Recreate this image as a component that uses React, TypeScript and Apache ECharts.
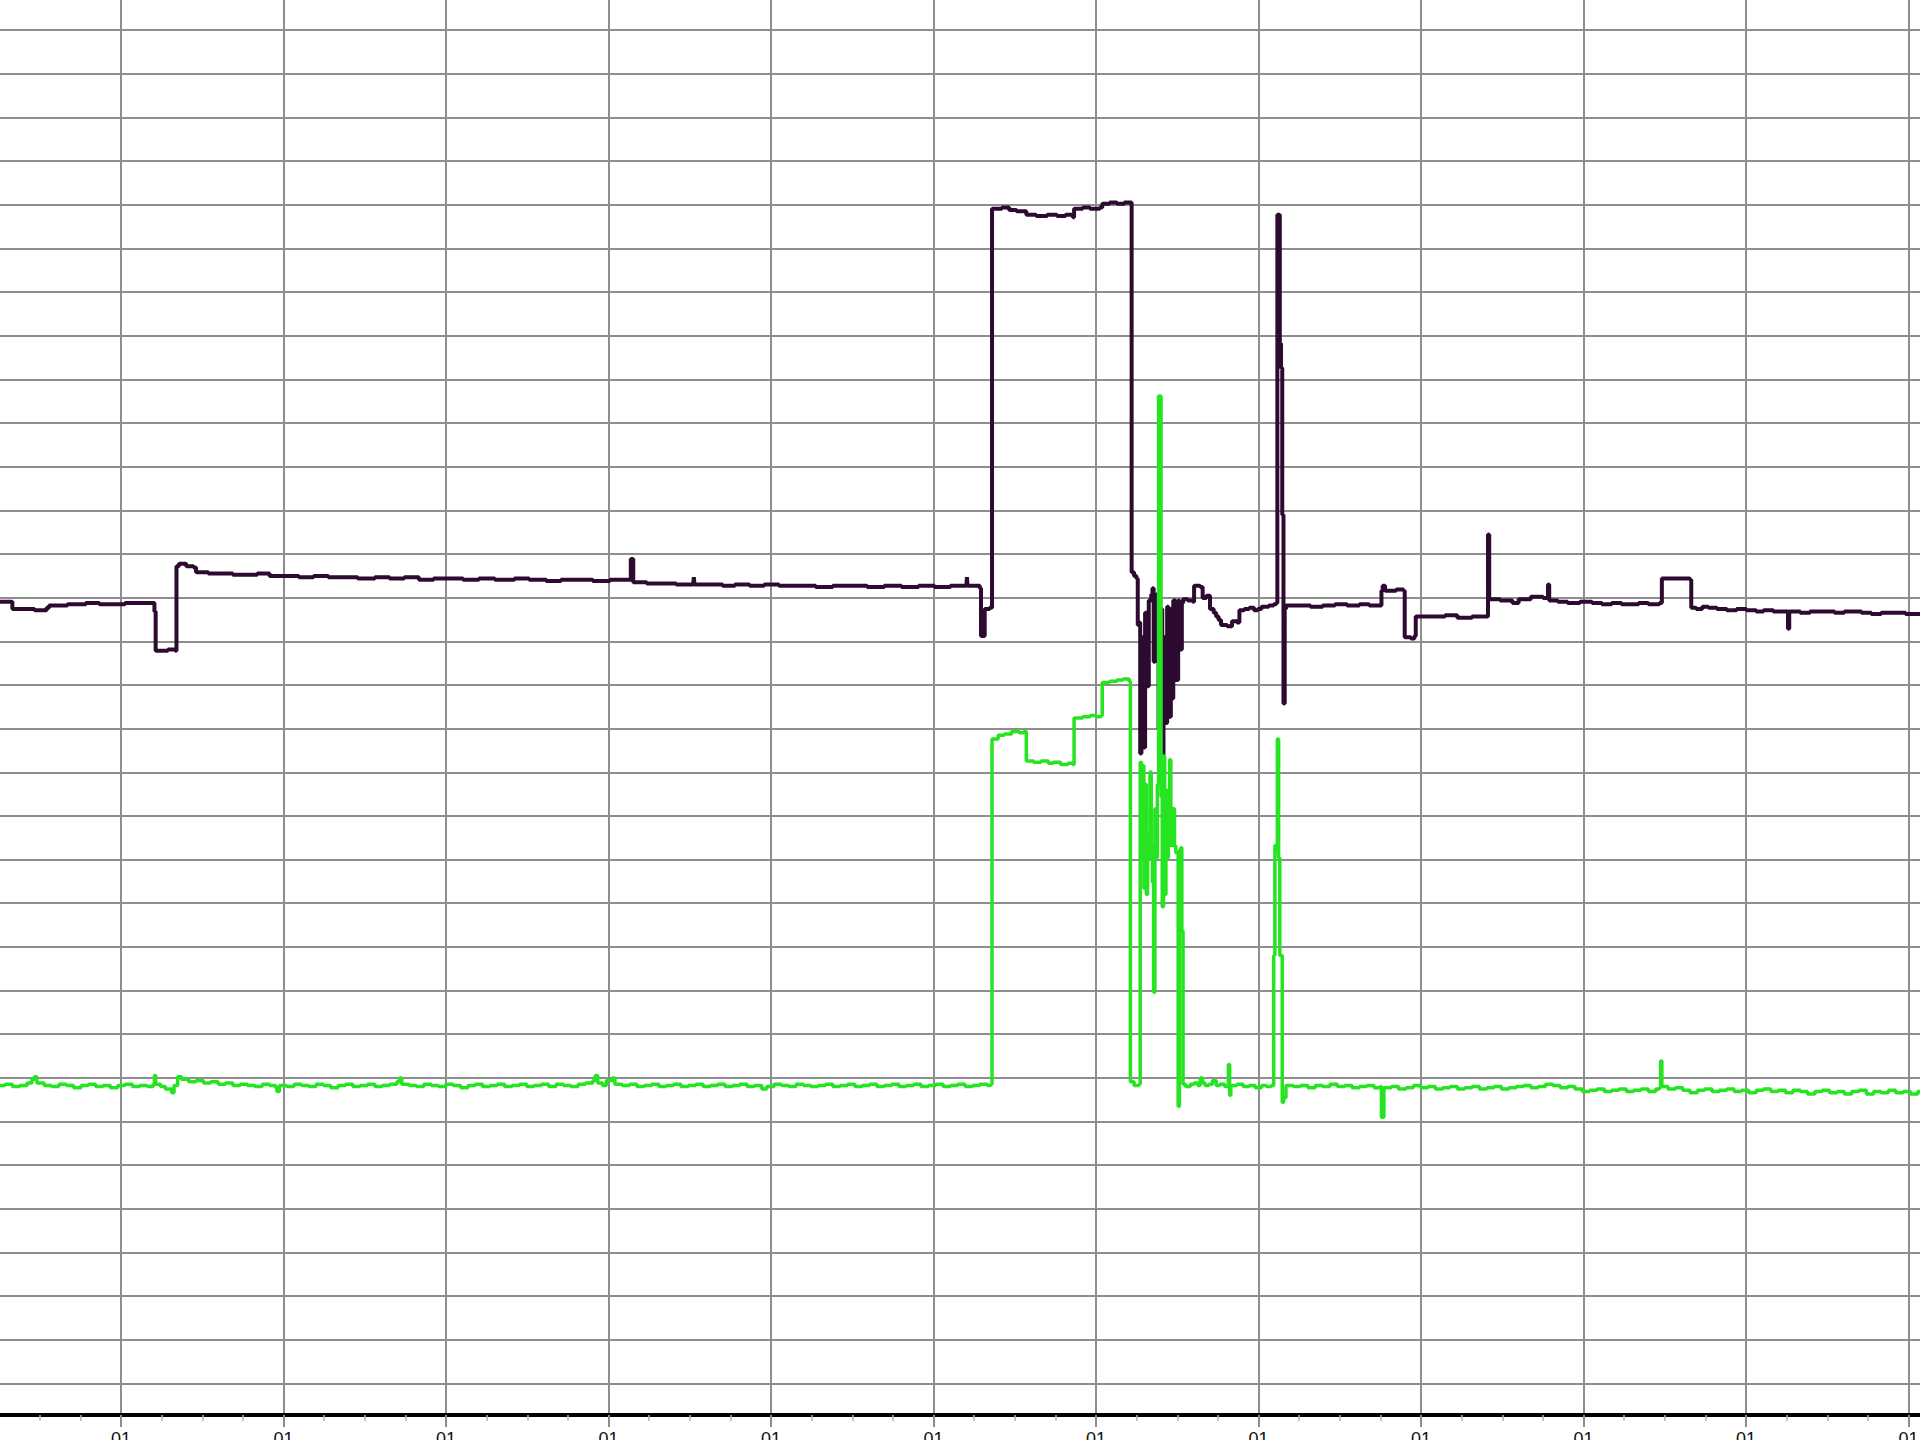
import React, { useEffect, useRef } from "react";
import * as echarts from "echarts";

// x tick labels (one per major interval; the text is cut by the bottom edge in the reference)
const xTickLabels = ["01", "01", "01", "01", "01", "01", "01", "01", "01", "01", "01", "01", "01", "01"];

// Axis scale (arbitrary units)
const xMin = 0;
const xInterval = 132.7;
const xMax = 1725.1;
const yMin = 0;
const yInterval = 35.65;
const yMax = 1176.45;

// Dark purple trace [x, y]
const purpleSeries: [number, number][] = [
  [30, 674], [43, 674], [44, 668], [54, 668], [62, 667], [72, 669], [74, 671], [89, 672],
  [104, 673], [115, 672], [124, 672], [136, 673], [144, 673], [158, 673], [160, 666], [161, 634],
  [171, 635], [177, 634], [178, 703], [180, 705], [186, 703], [192, 702], [194, 698], [204, 697],
  [215, 697], [224, 696], [234, 696], [244, 697], [254, 695], [267, 695], [278, 694], [290, 695],
  [302, 694], [314, 694], [326, 693], [340, 694], [352, 693], [364, 694], [376, 692], [388, 693],
  [399, 693], [412, 692], [425, 693], [438, 692], [454, 693], [466, 692], [480, 691], [492, 692],
  [504, 692], [518, 691], [532, 692], [548, 692], [549, 709], [550, 709], [551, 690], [562, 689],
  [574, 689], [586, 688], [600, 689], [600.5, 694], [601, 688], [612, 688], [624, 687], [634, 688],
  [646, 687], [658, 688], [670, 687], [684, 687], [700, 686], [714, 687], [728, 687], [742, 686],
  [756, 687], [770, 686], [784, 687], [797, 686], [810, 687], [823, 687], [823.5, 694], [824, 687],
  [832, 687], [834, 685], [835, 646], [837, 646], [838, 668], [842, 669], [844, 995], [852, 996],
  [858, 994], [864, 993], [870, 993], [872, 990], [880, 989], [889, 990], [897, 989], [904, 990],
  [910, 988], [911, 995], [918, 996], [924, 995], [932, 996], [934, 999], [940, 1000], [946, 999],
  [952, 1000], [957, 1000], [958, 698], [960, 695], [962, 693], [963, 655], [964, 657], [965, 550],
  [966, 645], [967, 555], [969, 665], [970, 605], [972, 675], [974, 680], [975, 685], [976, 625],
  [977, 665], [978, 680], [979, 675], [980, 570], [981, 665], [982, 668], [983, 545], [984, 645],
  [985, 575], [987, 670], [988, 580], [990, 668], [991, 595], [992, 675], [994, 610], [996, 675],
  [997, 635], [999, 673], [1000, 676], [1004, 675], [1008, 674], [1009, 687], [1014, 686], [1016, 677],
  [1019, 679], [1022, 668], [1025, 665], [1027, 662], [1029, 659], [1031, 655], [1036, 654], [1040, 658],
  [1044, 657], [1046, 667], [1050, 668], [1054, 669], [1058, 667], [1061, 668], [1064, 670], [1070, 671],
  [1074, 672], [1076, 673], [1077, 990], [1078, 990], [1079, 885], [1080, 865], [1081, 745], [1082, 591],
  [1083, 668], [1084, 671], [1094, 671], [1104, 670], [1114, 671], [1124, 672], [1134, 671], [1144, 672],
  [1152, 671], [1161, 671], [1162, 683], [1163, 687], [1165, 683], [1174, 684], [1180, 683], [1181, 645],
  [1186, 644], [1189, 646], [1190, 662], [1204, 662], [1214, 663], [1224, 661], [1236, 662], [1248, 662],
  [1249, 729], [1250, 676], [1259, 675], [1269, 673], [1274, 676], [1284, 678], [1294, 677], [1297, 678],
  [1298, 688], [1299, 675], [1306, 674], [1314, 673], [1324, 674], [1334, 673], [1342, 672], [1350, 673],
  [1358, 672], [1364, 672], [1372, 673], [1380, 672], [1389, 673], [1391, 693], [1404, 693], [1414, 692],
  [1415, 669], [1419, 668], [1424, 670], [1429, 669], [1436, 668], [1444, 667], [1452, 668], [1460, 667],
  [1468, 666], [1474, 667], [1482, 666], [1492, 666], [1494, 652], [1495, 666], [1504, 665], [1512, 666],
  [1524, 666], [1532, 665], [1540, 666], [1554, 665], [1562, 664], [1570, 665], [1579, 665], [1590, 664],
  [1606, 664],
];

// Bright green trace [x, y]
const greenSeries: [number, number][] = [
  [30, 279], [38, 280], [44, 278], [50, 279], [56, 281], [60, 284], [62, 286], [64, 281],
  [70, 279], [76, 278], [82, 280], [88, 279], [94, 277], [100, 279], [106, 280], [112, 278],
  [118, 279], [124, 277], [130, 279], [136, 280], [142, 278], [148, 279], [154, 278], [159, 280],
  [160, 287], [161, 280], [165, 278], [169, 276], [174, 273], [176, 279], [179, 286], [182, 284],
  [188, 282], [194, 283], [200, 281], [206, 282], [212, 280], [218, 281], [224, 279], [230, 280],
  [236, 279], [242, 278], [248, 280], [254, 279], [259, 277], [260, 274], [262, 279], [268, 278],
  [274, 280], [280, 279], [286, 278], [292, 280], [298, 279], [304, 277], [310, 279], [316, 280],
  [322, 278], [328, 279], [334, 280], [340, 278], [346, 279], [352, 280], [358, 282], [360, 285],
  [362, 280], [368, 279], [374, 278], [380, 280], [386, 279], [392, 278], [398, 280], [404, 279],
  [410, 277], [416, 279], [422, 280], [428, 278], [434, 279], [440, 280], [446, 278], [452, 279],
  [458, 280], [464, 278], [470, 279], [476, 280], [482, 278], [488, 280], [494, 279], [500, 278],
  [506, 280], [512, 281], [518, 283], [520, 287], [522, 281], [526, 279], [529, 283], [534, 285],
  [536, 280], [542, 279], [548, 280], [554, 278], [560, 279], [566, 280], [572, 278], [578, 279],
  [584, 280], [590, 278], [596, 279], [602, 280], [608, 278], [614, 279], [620, 280], [626, 278],
  [632, 279], [638, 280], [644, 278], [650, 279], [656, 276], [660, 278], [666, 280], [672, 279],
  [678, 278], [684, 280], [690, 279], [696, 278], [702, 279], [708, 280], [714, 278], [720, 279],
  [726, 280], [732, 278], [738, 279], [744, 280], [750, 278], [756, 279], [762, 280], [768, 278],
  [774, 279], [780, 280], [786, 278], [792, 279], [798, 280], [804, 278], [810, 279], [816, 280],
  [822, 278], [828, 279], [834, 280], [840, 279], [843, 280], [844, 562], [849, 565], [854, 566],
  [860, 568], [866, 567], [870, 568], [872, 544], [878, 543], [884, 544], [890, 542], [894, 543],
  [900, 541], [906, 542], [910, 541], [911, 579], [918, 580], [924, 581], [929, 580], [933, 581],
  [934, 608], [940, 609], [946, 610], [951, 611], [956, 609], [957, 282], [960, 279], [964, 280],
  [965, 543], [966, 465], [967, 540], [968, 440], [969, 525], [970, 435], [971, 485], [972, 465],
  [973, 535], [974, 475], [975, 445], [976, 355], [977, 505], [978, 465], [979, 525], [980, 842],
  [981, 842], [982, 515], [983, 425], [984, 548], [985, 435], [986, 520], [987, 465], [988, 485],
  [989, 545], [990, 475], [991, 505], [993, 475], [994, 469], [996, 262], [997, 471], [998, 473],
  [999, 405], [1000, 280], [1002, 278], [1006, 280], [1009, 281], [1012, 279], [1014, 285], [1016, 281],
  [1018, 279], [1021, 280], [1024, 283], [1027, 279], [1030, 280], [1034, 278], [1037, 296], [1038, 271],
  [1039, 279], [1044, 280], [1049, 278], [1054, 279], [1059, 277], [1064, 279], [1068, 278], [1072, 279],
  [1074, 385], [1075, 475], [1076, 470], [1077, 562], [1078, 465], [1079, 385], [1080, 385], [1081, 265],
  [1082, 269], [1084, 279], [1090, 278], [1096, 279], [1102, 277], [1108, 279], [1114, 278], [1120, 280],
  [1126, 278], [1132, 279], [1138, 277], [1144, 278], [1150, 279], [1156, 277], [1161, 278], [1162, 253],
  [1164, 277], [1170, 278], [1176, 276], [1182, 277], [1188, 279], [1194, 277], [1200, 278], [1206, 276],
  [1212, 277], [1218, 278], [1224, 276], [1230, 277], [1236, 278], [1242, 276], [1248, 277], [1254, 278],
  [1260, 276], [1266, 277], [1272, 278], [1278, 279], [1284, 277], [1290, 278], [1296, 280], [1302, 279],
  [1308, 277], [1314, 278], [1320, 276], [1326, 274], [1332, 275], [1338, 276], [1344, 274], [1350, 275],
  [1356, 276], [1362, 274], [1368, 275], [1374, 276], [1380, 274], [1386, 276], [1389, 277], [1390, 299],
  [1391, 278], [1396, 276], [1402, 277], [1408, 275], [1414, 273], [1420, 275], [1426, 276], [1432, 274],
  [1438, 275], [1444, 276], [1450, 274], [1456, 275], [1462, 273], [1468, 275], [1474, 276], [1480, 274],
  [1486, 275], [1492, 273], [1498, 275], [1504, 274], [1510, 272], [1516, 274], [1522, 275], [1528, 273],
  [1534, 274], [1540, 272], [1546, 274], [1552, 275], [1558, 272], [1564, 274], [1570, 273], [1576, 275],
  [1582, 273], [1588, 274], [1594, 272], [1600, 274], [1606, 273],
];

const gridColor = "#8e8e8e";

export default function App() {
  const ref = useRef<HTMLDivElement>(null);
  useEffect(() => {
    if (!ref.current) return;
    const chart = echarts.init(ref.current, undefined, { renderer: "svg" });
    chart.setOption({
      animation: false,
      backgroundColor: "#ffffff",
      grid: {
        left: -41.5,
        right: -151,
        top: -13.45,
        bottom: 13,
        containLabel: false,
        outerBoundsMode: "none",
      },
      xAxis: {
        type: "value",
        min: xMin,
        max: xMax,
        interval: xInterval,
        offset: -12,
        axisLine: { show: true, onZero: false, lineStyle: { color: "#000000", width: 4 } },
        axisTick: { show: true, length: 7, lineStyle: { color: gridColor, width: 2 } },
        minorTick: { show: true, splitNumber: 4, length: 6, lineStyle: { color: "#b4b4b4", width: 1.5 } },
        axisLabel: {
          show: true,
          margin: 15,
          fontSize: 18,
          fontFamily: "Liberation Sans, Arial, sans-serif",
          color: "#111111",
          formatter: (_v: number, i: number) => xTickLabels[i] ?? "",
        },
        splitLine: { show: true, lineStyle: { color: gridColor, width: 2 } },
      },
      yAxis: {
        type: "value",
        min: yMin,
        max: yMax,
        interval: yInterval,
        axisLine: { show: false },
        axisTick: { show: false },
        axisLabel: { show: false },
        splitLine: { show: true, showMinLine: false, lineStyle: { color: gridColor, width: 2 } },
      },
      series: [
        {
          type: "line",
          data: purpleSeries,
          step: "end",
          showSymbol: false,
          symbol: "none",
          lineStyle: { color: "#2d0b31", width: 4 },
          z: 3,
        },
        {
          type: "line",
          data: greenSeries,
          step: "end",
          showSymbol: false,
          symbol: "none",
          lineStyle: { color: "#26e422", width: 3.5 },
          z: 4,
        },
      ],
    });
    return () => chart.dispose();
  }, []);
  return (
    <div style={{ position: "absolute", left: 0, top: 0, width: 1920, height: 1440, overflow: "hidden" }}>
      <div ref={ref} style={{ width: 1920, height: 1440 }} />
    </div>
  );
}
